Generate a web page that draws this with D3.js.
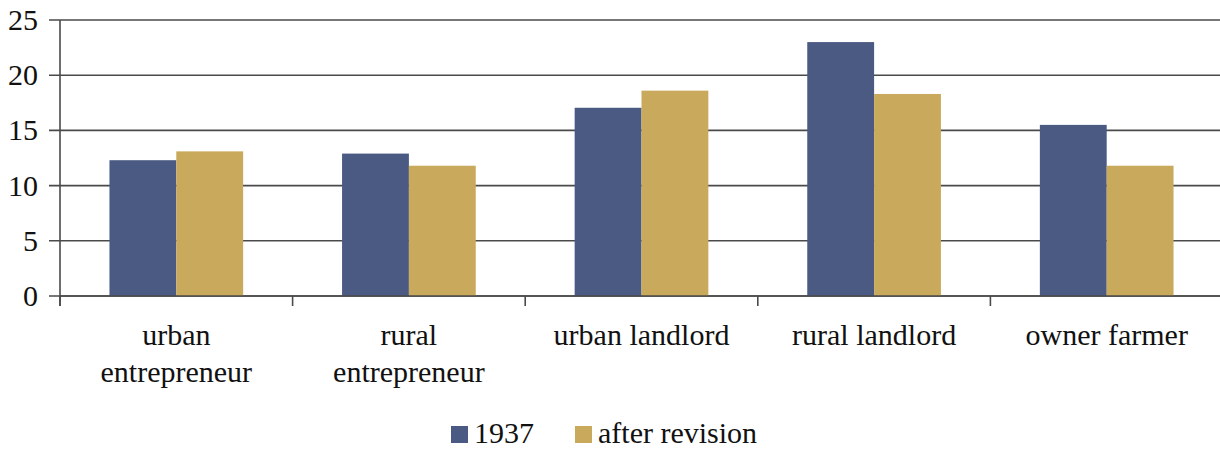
<!DOCTYPE html>
<html>
<head>
<meta charset="utf-8">
<script src="https://cdn.jsdelivr.net/npm/d3@7"></script>
</head>
<body style="margin:0;background:#fff">
<script>
const categories = [["urban", "entrepreneur"], ["rural", "entrepreneur"], ["urban landlord"], ["rural landlord"], ["owner farmer"]];
const seriesNames = ["1937", "after revision"];
const values1937 = [12.3, 12.9, 17.05, 23.0, 15.5];
const valuesRevision = [13.1, 11.8, 18.6, 18.3, 11.8];
const yTicks = [0, 5, 10, 15, 20, 25];
const colors = ["#4b5a82", "#c9a95c"];

const width = 1220, height = 454;
const margin = { top: 20, left: 60, bottom: 158 };
const plotRight = 1223;
const textFont = "'Liberation Serif', monospace";

const svg = d3.select("body").append("svg")
  .attr("width", width)
  .attr("height", height);

const keys = categories.map((d, i) => i);

const x = d3.scaleBand()
  .domain(keys)
  .range([margin.left, plotRight])
  .paddingInner(0)
  .paddingOuter(0);

const inner = d3.scaleBand()
  .domain([0, 1])
  .range([0, x.bandwidth()])
  .paddingOuter(0.74)
  .paddingInner(0);

const y = d3.scaleLinear()
  .domain([0, 25])
  .range([296, 20]);

const lineColor = "#4a4a4a";

// gridlines
svg.append("g")
  .selectAll("line")
  .data(yTicks)
  .join("line")
  .attr("x1", 49)
  .attr("x2", plotRight)
  .attr("y1", d => y(d))
  .attr("y2", d => y(d))
  .attr("stroke", lineColor)
  .attr("stroke-width", 1.6);

// bars
const series = [values1937, valuesRevision];
svg.append("g")
  .selectAll("g")
  .data(series)
  .join("g")
  .attr("fill", (d, i) => colors[i])
  .each(function(vals, si) {
    d3.select(this).selectAll("rect")
      .data(vals)
      .join("rect")
      .attr("x", (v, i) => x(i) + inner(si))
      .attr("width", inner.bandwidth())
      .attr("y", v => y(v))
      .attr("height", v => y(0) - y(v));
  });

// x axis baseline and ticks
svg.append("line")
  .attr("x1", margin.left).attr("x2", plotRight)
  .attr("y1", y(0)).attr("y2", y(0))
  .attr("stroke", lineColor).attr("stroke-width", 1.6);

svg.append("g")
  .selectAll("line")
  .data(keys.concat([keys.length]))
  .join("line")
  .attr("x1", d => d < keys.length ? x(d) : plotRight)
  .attr("x2", d => d < keys.length ? x(d) : plotRight)
  .attr("y1", y(0))
  .attr("y2", y(0) + 10)
  .attr("stroke", lineColor)
  .attr("stroke-width", 1.6);

// y axis line
svg.append("line")
  .attr("x1", margin.left).attr("x2", margin.left)
  .attr("y1", y(25)).attr("y2", y(0) + 10)
  .attr("stroke", lineColor).attr("stroke-width", 1.6);

// y labels
svg.selectAll("text.ylab")
  .data(yTicks)
  .join("text")
  .attr("class", "ylab")
  .attr("x", 38)
  .attr("y", d => y(d) + 10)
  .attr("text-anchor", "end")
  .style("font-size", "30px")
  .style("fill", "#111")
  .style("font-family", textFont, "important")
  .text(d => d);

// category labels (one text per line)
const catLines = [];
categories.forEach((lines, i) => lines.forEach((l, j) => catLines.push({ i: i, j: j, t: l })));
svg.selectAll("text.cat")
  .data(catLines)
  .join("text")
  .attr("class", "cat")
  .attr("x", d => x(d.i) + x.bandwidth() / 2)
  .attr("y", d => 345 + d.j * 37)
  .attr("text-anchor", "middle")
  .style("font-size", "30px")
  .style("fill", "#111")
  .style("font-family", textFont, "important")
  .text(d => d.t);

// legend
const legendPos = [451, 575];
svg.selectAll("rect.leg")
  .data(seriesNames)
  .join("rect")
  .attr("class", "leg")
  .attr("x", (d, i) => legendPos[i])
  .attr("y", 426)
  .attr("width", 17)
  .attr("height", 17)
  .attr("fill", (d, i) => colors[i]);
svg.selectAll("text.leg")
  .data(seriesNames)
  .join("text")
  .attr("class", "leg")
  .attr("x", (d, i) => legendPos[i] + 23)
  .attr("y", 443)
  .style("font-size", "30px")
  .style("fill", "#111")
  .style("font-family", textFont, "important")
  .text(d => d);
</script>
</body>
</html>
